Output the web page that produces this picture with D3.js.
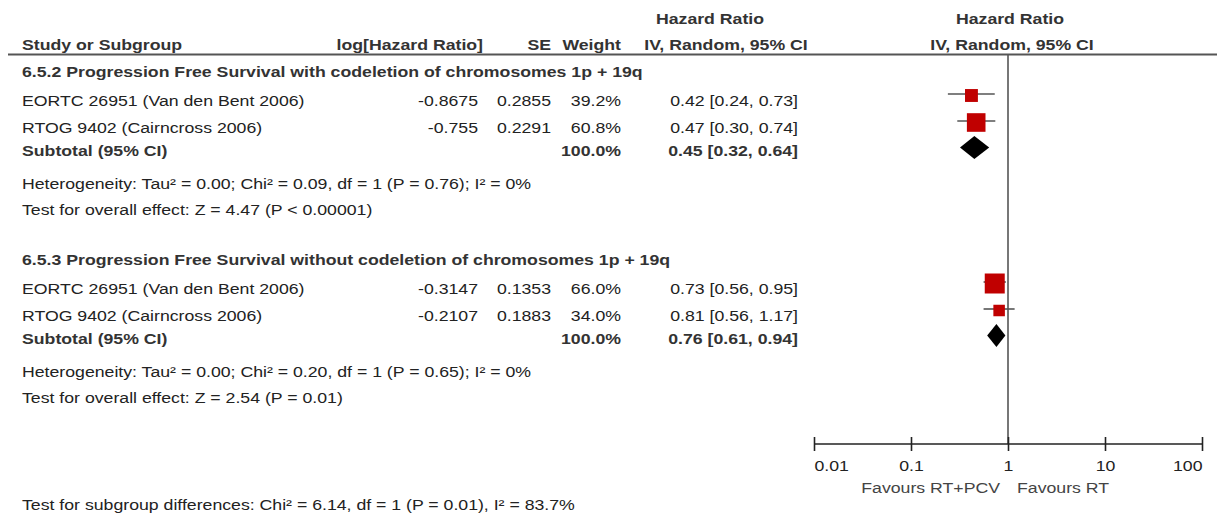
<!DOCTYPE html>
<html>
<head>
<meta charset="utf-8">
<script src="https://cdn.jsdelivr.net/npm/d3@7"></script>
<style>
  html, body { margin: 0; padding: 0; background: #ffffff; }
  svg { display: block; }
  text { font-family: "Liberation Sans", Arial, Helvetica, sans-serif; font-size: 15px; fill: #222; }
  .b { font-weight: bold; }
</style>
</head>
<body>
<svg id="chart" width="1224" height="515"></svg>
<script>
// ---- data -----------------------------------------------------------
const subgroupTitles = [
  "6.5.2 Progression Free Survival with codeletion of chromosomes 1p + 19q",
  "6.5.3 Progression Free Survival without codeletion of chromosomes 1p + 19q"
];
const studyNames = ["EORTC 26951 (Van den Bent 2006)", "RTOG 9402 (Cairncross 2006)"];
const logHR   = [[-0.8675, -0.755], [-0.3147, -0.2107]];
const seVals  = [[0.2855, 0.2291], [0.1353, 0.1883]];
const weights = [[39.2, 60.8], [66.0, 34.0]];
const hrVals  = [[0.42, 0.47], [0.73, 0.81]];
const ciLow   = [[0.24, 0.30], [0.56, 0.56]];
const ciHigh  = [[0.73, 0.74], [0.95, 1.17]];
const subtotalHR   = [0.45, 0.76];
const subtotalLow  = [0.32, 0.61];
const subtotalHigh = [0.64, 0.94];
const heterogeneity = [
  "Heterogeneity: Tau² = 0.00; Chi² = 0.09, df = 1 (P = 0.76); I² = 0%",
  "Heterogeneity: Tau² = 0.00; Chi² = 0.20, df = 1 (P = 0.65); I² = 0%"
];
const overallEffect = [
  "Test for overall effect: Z = 4.47 (P < 0.00001)",
  "Test for overall effect: Z = 2.54 (P = 0.01)"
];
const subgroupDiff = "Test for subgroup differences: Chi² = 6.14, df = 1 (P = 0.01), I² = 83.7%";
const tickValues = [0.01, 0.1, 1, 10, 100];
const tickLabels = ["0.01", "0.1", "1", "10", "100"];
const favoursLeft = "Favours RT+PCV";
const favoursRight = "Favours RT";

// ---- layout ---------------------------------------------------------
const SX = 1.18;             // horizontal stretch of all lettering
const svg = d3.select("#chart");
const fmt2 = d3.format(".2f");
const fmtW = d3.format(".1f");

const x = d3.scaleLog().domain([0.01, 100]).range([814, 1202]);
const boxSize = d3.scaleLinear().domain([0, 100]).range([2.5, 29]);

const col = { study: 22, logHR: 478, se: 551, weight: 621, ci: 798 };
const axisY = 444;
const headerLineY = 54.5;
const groupTop = [77, 265];
const rowOff = { title: 0, s0: 29, s1: 56, sub: 79, het: 112, test: 138 };

function label(xp, yp, txt, anchor, cls, fill) {
  const t = svg.append("text")
    .attr("transform", `translate(${xp},${yp}) scale(${SX},1)`)
    .attr("text-anchor", anchor || "start")
    .text(txt);
  if (cls) t.attr("class", cls);
  if (fill) t.style("fill", fill);
  return t;
}

// ---- column headers --------------------------------------------------
label(710, 23.5, "Hazard Ratio", "middle", "b", "#333");
label(1010, 23.5, "Hazard Ratio", "middle", "b", "#333");
label(col.study, 50, "Study or Subgroup", "start", "b", "#333");
label(483, 50, "log[Hazard Ratio]", "end", "b", "#333");
label(col.se, 50, "SE", "end", "b", "#333");
label(col.weight, 50, "Weight", "end", "b", "#333");
label(726, 50, "IV, Random, 95% CI", "middle", "b", "#333");
label(1012, 50, "IV, Random, 95% CI", "middle", "b", "#333");

svg.append("line")
  .attr("x1", 8).attr("x2", 1217)
  .attr("y1", headerLineY).attr("y2", headerLineY)
  .attr("stroke", "#555").attr("stroke-width", 2);

// line of no effect
svg.append("line")
  .attr("x1", x(1)).attr("x2", x(1))
  .attr("y1", headerLineY).attr("y2", axisY)
  .attr("stroke", "#555").attr("stroke-width", 1.6);

// ---- subgroups ------------------------------------------------------
subgroupTitles.forEach((title, g) => {
  const top = groupTop[g];
  label(col.study, top + rowOff.title, title, "start", "b", "#333");

  studyNames.forEach((name, i) => {
    const yb = top + (i === 0 ? rowOff.s0 : rowOff.s1);
    label(col.study, yb, name);
    label(col.logHR, yb, String(logHR[g][i]), "end");
    label(col.se, yb, String(seVals[g][i]), "end");
    label(col.weight, yb, fmtW(weights[g][i]) + "%", "end");
    label(col.ci, yb, `${fmt2(hrVals[g][i])} [${fmt2(ciLow[g][i])}, ${fmt2(ciHigh[g][i])}]`, "end");

    const ym = yb - 10.5;
    svg.append("line")
      .attr("x1", x(ciLow[g][i])).attr("x2", x(ciHigh[g][i]))
      .attr("y1", ym - 1.5).attr("y2", ym - 1.5)
      .attr("stroke", "#555").attr("stroke-width", 1.6);
    const s = boxSize(weights[g][i]);
    svg.append("rect")
      .attr("x", x(hrVals[g][i]) - s / 2).attr("y", ym - s / 2)
      .attr("width", s).attr("height", s)
      .attr("fill", "#c00000");
  });

  const ys = top + rowOff.sub;
  label(col.study, ys, "Subtotal (95% CI)", "start", "b", "#333");
  label(col.weight, ys, "100.0%", "end", "b", "#333");
  label(col.ci, ys, `${fmt2(subtotalHR[g])} [${fmt2(subtotalLow[g])}, ${fmt2(subtotalHigh[g])}]`, "end", "b", "#333");

  const yd = ys - 8.5, h = 11.5;
  const pts = [
    [x(subtotalLow[g]), yd],
    [x(subtotalHR[g]), yd - h],
    [x(subtotalHigh[g]), yd],
    [x(subtotalHR[g]), yd + h]
  ];
  svg.append("path").attr("d", d3.line()(pts) + "Z").attr("fill", "#000");

  label(col.study, top + rowOff.het, heterogeneity[g]);
  label(col.study, top + rowOff.test, overallEffect[g]);
});

label(col.study, 510, subgroupDiff);

// ---- axis -----------------------------------------------------------
const axis = svg.append("g")
  .attr("transform", `translate(0,${axisY})`)
  .call(d3.axisBottom(x).tickValues(tickValues).tickSize(7).tickFormat((d, i) => tickLabels[i]));
axis.select(".domain").attr("stroke", "#222").attr("stroke-width", 1.6)
  .attr("d", `M${x(0.01)},0H${x(100)}`);
axis.selectAll(".tick line").attr("y1", -7).attr("y2", 7)
  .attr("stroke", "#222").attr("stroke-width", 1.6);
axis.selectAll(".tick text")
  .attr("y", 0).attr("dy", null)
  .attr("transform", `translate(0,27) scale(${SX},1)`)
  .attr("text-anchor", (d, i) => i === 0 ? "start" : (i === tickValues.length - 1 ? "end" : "middle"))
  .style("font-size", "15px").style("fill", "#222")
  .style("font-family", "'Liberation Sans', Arial, sans-serif");

label(x(1) - 8, 493, favoursLeft, "end", null, "#444");
label(x(1) + 9, 493, favoursRight, "start", null, "#444");
</script>
</body>
</html>
